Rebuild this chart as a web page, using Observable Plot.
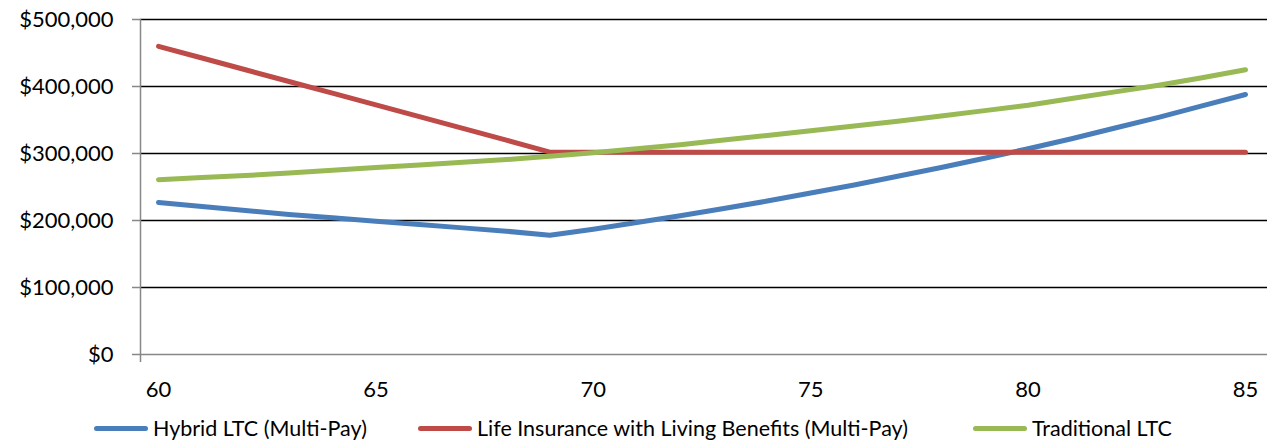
<!DOCTYPE html>
<html>
<head>
<meta charset="utf-8">
<script src="https://cdn.jsdelivr.net/npm/d3@7"></script>
<script src="https://cdn.jsdelivr.net/npm/@observablehq/plot@0.6"></script>
<style>
  html, body { margin: 0; padding: 0; background: #fff; }
  #wrap { position: relative; width: 1276px; height: 440px; font-family: Lato, "Open Sans", sans-serif; }
  #legend { position: absolute; left: 0; top: 414px; width: 1276px; height: 28px; }
  .item { position: absolute; top: 0; display: flex; align-items: center; height: 28px; font-size: 21.5px; color: #000; white-space: nowrap; }
  .sw { display: inline-block; width: 54px; height: 5px; border-radius: 3px; margin-right: 5px; }
</style>
</head>
<body>
<div id="wrap"><div id="chart"></div><div id="legend"></div></div>
<script>
const ages = [60,61,62,63,64,65,66,67,68,69,70,71,72,73,74,75,76,77,78,79,80,81,82,83,84,85];
const seriesNames = ["Hybrid LTC (Multi-Pay)", "Life Insurance with Living Benefits (Multi-Pay)", "Traditional LTC"];
const hybrid = [227000,221000,215000,209000,204000,199000,194000,189000,184000,178000,187000,197000,207000,218000,229000,241000,253000,266000,279000,293000,307000,322000,338000,354000,371000,388000];
const lifeIns = [460000,442500,425000,407500,390000,372500,355000,337500,320000,302000,302000,302000,302000,302000,302000,302000,302000,302000,302000,302000,302000,302000,302000,302000,302000,302000];
const traditional = [261000,264000,267000,271000,275000,279000,283000,287000,291000,296000,301000,307000,313000,320000,327000,334000,341000,348000,356000,364000,372000,382000,392000,402000,413000,425000];
const colors = ["#4A7EBB", "#BE4B48", "#98B954"];
const xTicks = [60,65,70,75,80,85];
const yTicks = [0,100000,200000,300000,400000,500000];

const values = [hybrid, lifeIns, traditional];
const data = [];
seriesNames.forEach((s, i) => ages.forEach((a, j) => data.push({series: s, age: a, value: values[i][j]})));

const xDomain = [59.586, 85.506];
const fmt = d => "$" + d3.format(",")(d);

const chart = Plot.plot({
  width: 1276,
  height: 414,
  marginTop: 19,
  marginBottom: 60,
  marginLeft: 140,
  marginRight: 9,
  style: {fontFamily: "Lato, 'Open Sans', sans-serif", fontSize: "22px", color: "#000", background: "#fff"},
  x: {domain: xDomain},
  y: {domain: [0, 500000]},
  color: {domain: seriesNames, range: colors},
  marks: [
    Plot.ruleY(yTicks.filter(d => d > 0), {stroke: "#000", strokeWidth: 1.5}),
    Plot.ruleY([0], {stroke: "#878787", strokeWidth: 1.5}),
    Plot.ruleX([xDomain[0]], {y1: -11900, y2: 500000, stroke: "#878787", strokeWidth: 1.5}),
    Plot.axisY({ticks: yTicks, tickFormat: fmt, tickSize: 8, tickPadding: 19, stroke: "#878787", strokeWidth: 1.5, label: null, fontSize: 22}),
    Plot.axisX({ticks: xTicks, tickSize: 0, tickPadding: 27, label: null, fontSize: 22}),
    Plot.line(data, {x: "age", y: "value", z: "series", stroke: "series", strokeWidth: 5, strokeLinecap: "round", strokeLinejoin: "round"})
  ]
});
document.getElementById("chart").appendChild(chart);

const legendLefts = [94, 418, 973];
const legend = document.getElementById("legend");
seriesNames.forEach((s, i) => {
  const it = document.createElement("div");
  it.className = "item";
  it.style.left = legendLefts[i] + "px";
  const sw = document.createElement("span");
  sw.className = "sw";
  sw.style.background = colors[i];
  it.appendChild(sw);
  it.appendChild(document.createTextNode(s));
  legend.appendChild(it);
});
</script>
</body>
</html>
